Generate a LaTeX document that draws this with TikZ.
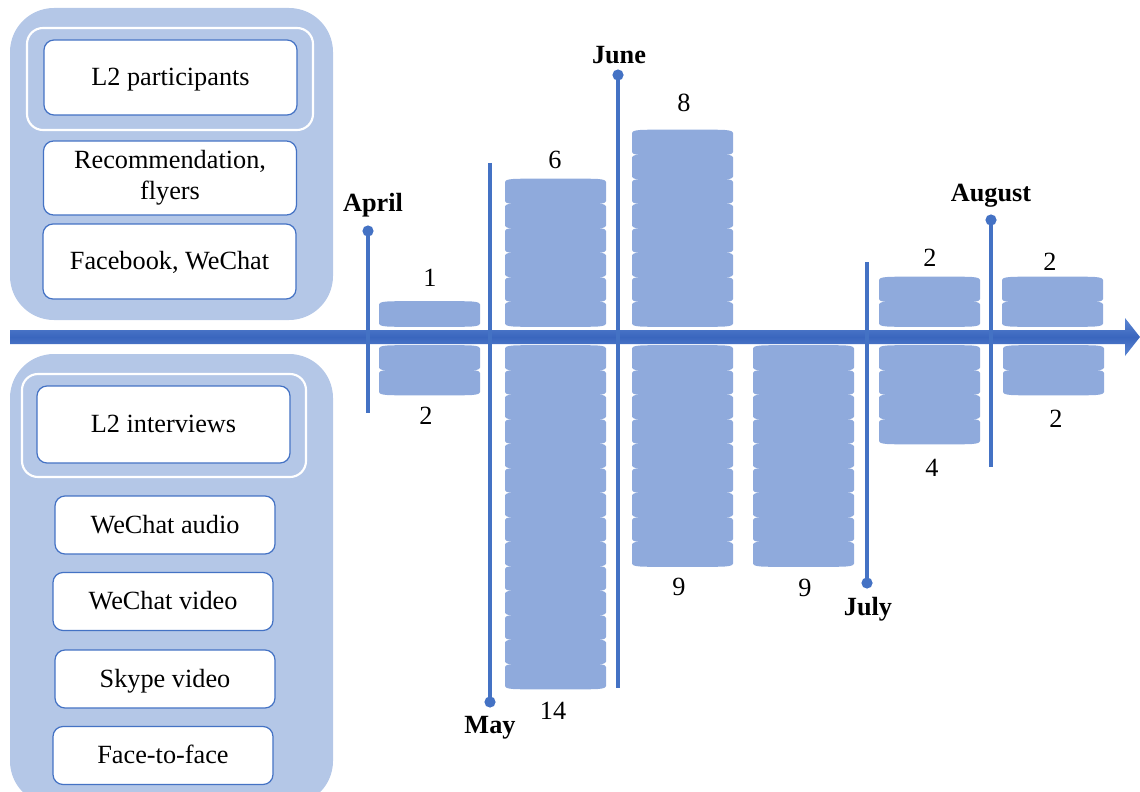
\documentclass[tikz,border=0pt]{standalone}
\usepackage{fontspec}
\setmainfont{Liberation Serif}
\definecolor{mblue}{RGB}{68,114,196}
\definecolor{mdark}{RGB}{58,102,190}
\definecolor{mlight}{RGB}{92,134,210}
\definecolor{diskc}{RGB}{143,170,220}
\definecolor{panelc}{RGB}{180,199,231}
\newcommand\dsk[2]{%
  \fill[diskc] (#1,#2+3.5) .. controls (#1+0.5,#2+1.2) and (#1+4,#2+0.6) .. (#1+12,#2+0.3)
    .. controls (#1+30,#2) and (#1+71,#2) .. (#1+89,#2+0.3)
    .. controls (#1+97,#2+0.6) and (#1+100.5,#2+1.2) .. (#1+101,#2+3.5)
    -- (#1+101,#2+22.5) .. controls (#1+100.5,#2+24.8) and (#1+97,#2+25.4) .. (#1+89,#2+25.7)
    .. controls (#1+71,#2+26) and (#1+30,#2+26) .. (#1+12,#2+25.7)
    .. controls (#1+4,#2+25.4) and (#1+0.5,#2+24.8) .. (#1,#2+22.5) -- cycle;}
\newcommand\stackup[2]{\foreach \k [evaluate=\k as \yy using 301-24.5*\k+24.5] in {1,...,#2}{\dsk{#1}{\yy}}}
\newcommand\stackdn[2]{\foreach \k [evaluate=\k as \yy using 345+24.5*\k-24.5] in {1,...,#2}{\dsk{#1}{\yy}}}
\begin{document}
\begin{tikzpicture}[x=0.75pt,y=-0.75pt,
  every node/.style={font=\fontsize{19.7}{23.5}\selectfont, inner sep=0pt},
  box/.style={draw=mblue, line width=0.9pt, fill=white, rounded corners=7.5pt, align=center},
  bigbox/.style={box, minimum width=189.75pt, minimum height=56.25pt},
  smallbox/.style={box, minimum width=165pt, minimum height=43.5pt},
  oneline/.style={text height=16pt, text depth=4pt},
  panel/.style={fill=panelc, rounded corners=33pt},
  inner/.style={draw=white, line width=1.6pt, fill=panelc, rounded corners=12pt},
  month/.style={draw=mblue, line width=2.3pt},
  mdot/.style={fill=mblue},
  mlab/.style={font=\fontsize{19.7}{23.5}\selectfont\bfseries},
  num/.style={}]
\useasboundingbox (0,0) rectangle (1140,792);
% left panels
\begin{scope}
\clip (0,0) rectangle (1140,792);
\fill[panel] (10,8) rectangle (333,320);
\draw[inner] (27,28) rectangle (313,130);
\fill[panel] (10,354) rectangle (333,805);
\draw[inner] (22,374) rectangle (306,477);
\end{scope}
\node[bigbox, oneline] (part) at (170.5,77.5) {L2 participants};
\node[bigbox, minimum height=55.5pt] (rec) at (170,178) {Recommendation,\\flyers};
\node[bigbox, oneline] (fb) at (169.5,261.5) {Facebook, WeChat};
\node[bigbox, oneline, minimum height=57.75pt] (intv) at (163.5,424.5) {L2 interviews};
\node[smallbox, oneline] (wa) at (165,525) {WeChat audio};
\node[smallbox, oneline] (wv) at (163,601.5) {WeChat video};
\node[smallbox, oneline] (sv) at (165,679) {Skype video};
\node[smallbox, oneline] (ff) at (163,755.5) {Face-to-face};
% disk stacks
\stackup{379}{1}\stackdn{379}{2}
\stackup{505}{6}\stackdn{505}{14}
\stackup{632}{8}\stackdn{632}{9}
\stackdn{753}{9}
\stackup{879}{2}\stackdn{879}{4}
\stackup{1002}{2}\stackdn{1003}{2}
% main arrow
\shade[top color=mlight, bottom color=mlight, middle color=mdark]
  (10,330) -- (1125,330) -- (1125,318) -- (1140,337) -- (1125,356) -- (1125,344) -- (10,344) -- cycle;
% month markers
\coordinate (apT) at (368,231); \coordinate (apB) at (368,413);
\coordinate (myT) at (490,163); \coordinate (myB) at (490,702);
\coordinate (jnT) at (618,75);  \coordinate (jnB) at (618,688);
\coordinate (jlT) at (867,262); \coordinate (jlB) at (867,583);
\coordinate (auT) at (991,220); \coordinate (auB) at (991,467);
\draw[month] (apT) -- (apB); \fill[mdot] (apT) circle (4.2pt);
\draw[month] (myT) -- (myB); \fill[mdot] (myB) circle (4.2pt);
\draw[month] (jnT) -- (jnB); \fill[mdot] (jnT) circle (4.2pt);
\draw[month] (jlT) -- (jlB); \fill[mdot] (jlB) circle (4.2pt);
\draw[month] (auT) -- (auB); \fill[mdot] (auT) circle (4.2pt);
\node[mlab] (april) at (373,205) {April};
\node[mlab] (may) at (490,728) {May};
\node[mlab] (june) at (619,55) {June};
\node[mlab] (july) at (868,609) {July};
\node[mlab] (aug) at (991,196) {August};
% counts
\node[num] (n1) at (430,278) {1};
\node[num] (n2) at (426,416) {2};
\node[num] (n6) at (555,160) {6};
\node[num] (n14) at (553,711) {14};
\node[num] (n8) at (684,103) {8};
\node[num] (n9a) at (679,587) {9};
\node[num] (n9b) at (805,588) {9};
\node[num] (n2b) at (930,258) {2};
\node[num] (n4) at (932,468) {4};
\node[num] (n2c) at (1050,262) {2};
\node[num] (n2d) at (1056,419) {2};
\end{tikzpicture}
\end{document}
